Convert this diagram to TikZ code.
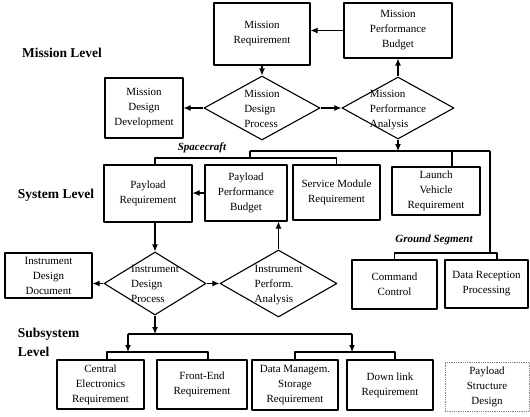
\documentclass[tikz,border=0pt]{standalone}
\usepackage{fontspec}
\setmainfont{Liberation Serif}
\usetikzlibrary{shapes.geometric,arrows.meta}
\newcommand\dlines[1]{\smash{\makebox[0pt]{\raisebox{-4pt}{\begin{tabular}{@{}l@{}}#1\end{tabular}}}}}
\begin{document}
\begin{tikzpicture}[x=1pt,y=-1pt,line join=round,line width=1.1pt,
  box/.style={draw,rectangle,inner sep=0pt,align=center,font=\fontsize{11}{15}\selectfont},
  dbox/.style={box,draw=gray,densely dotted,line width=0.8pt},
  decision/.style={draw,diamond,inner sep=0pt,font=\fontsize{11}{15}\selectfont},
  level/.style={font=\fontsize{13.5}{19}\selectfont\bfseries,align=left},
  segment/.style={font=\fontsize{11}{13}\selectfont\bfseries\itshape},
  flow/.style={-{Latex[length=7pt,width=6pt]}}]
\useasboundingbox (0,0) rectangle (530,416);
\node[level] (mlevel) at (62,53) {Mission Level};
\node[level] (slevel) at (56,195) {System Level};
\node[level,anchor=west] (sslevel) at (14,342.5) {Subsystem\\Level};
\node[segment] (sclabel) at (202,148) {Spacecraft};
\node[segment] (gslabel) at (434,240) {Ground Segment};
\node[box,minimum width=96pt,minimum height=62pt] (mreq) at (262,34) {Mission\\Requirement};
\node[box,minimum width=108pt,minimum height=55pt] (mpbud) at (398,30.5) {Mission\\Performance\\Budget};
\node[box,minimum width=78pt,minimum height=60pt] (mdev) at (144,108) {Mission\\Design\\Development};
\node[decision,minimum width=116pt,minimum height=64pt] (mdp) at (262,108) {\dlines{Mission\\Design\\Process}};
\node[decision,minimum width=112pt,minimum height=62pt] (mpa) at (398,108) {\dlines{Mission\\Performance\\Analysis}};
\node[box,minimum width=88pt,minimum height=57pt] (preq) at (148,193.5) {Payload\\Requirement};
\node[box,minimum width=82pt,minimum height=56pt] (ppbud) at (246,193) {Payload\\Performance\\Budget};
\node[box,minimum width=87pt,minimum height=55pt] (smreq) at (336.5,192.5) {Service Module\\Requirement};
\node[box,minimum width=88pt,minimum height=48pt] (lvreq) at (436,191) {Launch\\Vehicle\\Requirement};
\node[box,minimum width=87pt,minimum height=45pt] (iddoc) at (48.5,275.5) {Instrument\\Design\\Document};
\node[decision,minimum width=102pt,minimum height=63pt] (idp) at (155,283.5) {\dlines{Instrument\\Design\\Process}};
\node[decision,minimum width=117pt,minimum height=67pt] (ipa) at (278.5,283.5) {\dlines{Instrument\\Perform.\\Analysis}};
\node[box,minimum width=85pt,minimum height=49pt] (cmd) at (394.5,284.5) {Command\\Control};
\node[box,minimum width=83pt,minimum height=48pt] (drp) at (486.5,284) {Data Reception\\Processing};
\node[box,minimum width=87pt,minimum height=49pt] (cereq) at (100.5,384.5) {Central\\Electronics\\Requirement};
\node[box,minimum width=90pt,minimum height=49pt] (fereq) at (202,384.5) {Front-End\\Requirement};
\node[box,minimum width=86pt,minimum height=50pt] (dmreq) at (295,385) {Data Managem.\\Storage\\Requirement};
\node[box,minimum width=86pt,minimum height=50pt] (dlreq) at (390,385) {Down link\\Requirement};
\node[dbox,minimum width=84pt,minimum height=49pt] (psd) at (487,386.5) {Payload\\Structure\\Design};
\coordinate (scbus) at (250,151);
\coordinate (gsbus) at (490,151);
\coordinate (scsub) at (250,158);
\coordinate (gssub) at (490,253);
\coordinate (ssl) at (128,334);
\coordinate (ssr) at (352,334);
\coordinate (ssla) at (128,352);
\coordinate (ssra) at (352,352);
\draw[flow] (mpbud.west) -- (mpbud.west -| mreq.east);
\draw[flow] (mreq.south) -- (mdp.north);
\draw[flow] (mdp.west) -- (mdp.west -| mdev.east);
\draw[flow] (mdp.east) -- (mpa.west);
\draw[flow] (mpa.north) -- (mpbud.south);
\draw[flow] (mpa.south) -- (mpa.south |- scbus);
\draw (scbus) -- (gsbus);
\draw (scbus) -- (scsub);
\draw ([xshift=7pt]preq.north) |- (scsub) -| (smreq.north);
\draw ([xshift=16pt]lvreq.north) -- ([xshift=16pt]lvreq.north |- scbus);
\draw (gsbus) -- (gssub);
\draw (cmd.north) |- (gssub) -| ([xshift=10.5pt]drp.north);
\draw[flow] (ppbud.west) -- (ppbud.west -| preq.east);
\draw[flow] ([xshift=7pt]preq.south) -- (idp.north);
\draw[flow] (idp.west) -- (idp.west -| iddoc.east);
\draw[flow] (idp.east) -- (ipa.west);
\draw[flow] (ipa.north) -- (ipa.north |- ppbud.south);
\draw[flow] (idp.south) -- (idp.south |- ssl);
\draw (ssl) -- (ssr);
\draw[flow] (ssl) -- (ssla);
\draw ([xshift=6.5pt]cereq.north) |- (ssla) -| ([xshift=6pt]fereq.north);
\draw[flow] (ssr) -- (ssra);
\draw (dmreq.north) |- (ssra) -| ([xshift=5pt]dlreq.north);
\end{tikzpicture}
\end{document}
